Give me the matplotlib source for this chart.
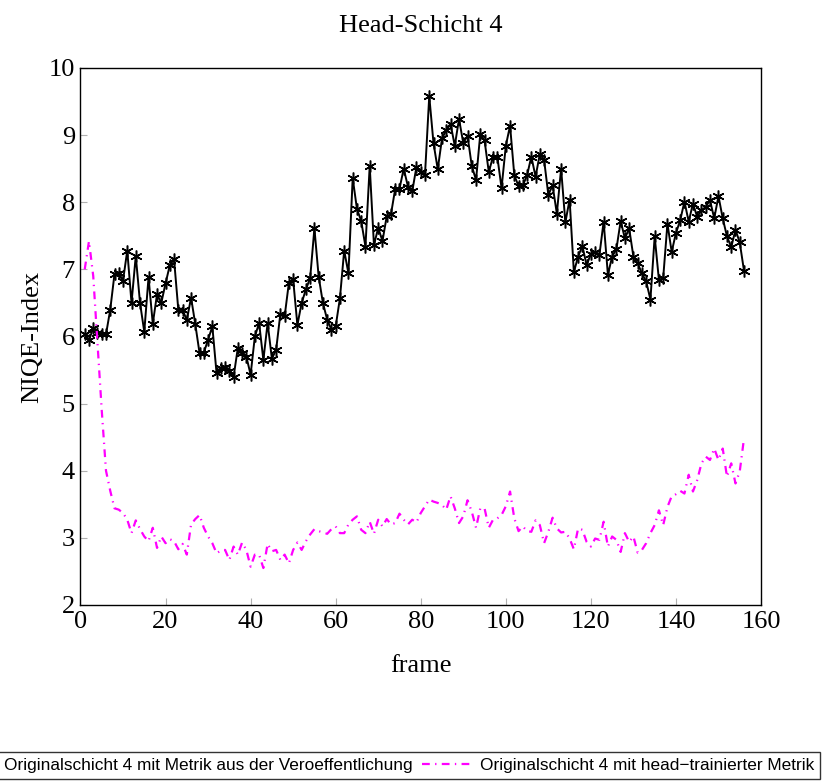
import matplotlib
matplotlib.use("Agg")
import matplotlib.pyplot as plt
import numpy as np

# Frames 1..156
frames = list(range(1, 157))

# NIQE values, original layer 4 with the published metric
niqe_published = [
    6.04, 5.94, 6.13, 6.05, 6.03, 6.03, 6.40, 6.93, 6.95, 6.83,
    7.28, 6.50, 7.20, 6.50, 6.07, 6.88, 6.19, 6.63, 6.50, 6.79,
    7.06, 7.15, 6.40, 6.40, 6.24, 6.58, 6.18, 5.75, 5.76, 5.95,
    6.15, 5.45, 5.53, 5.55, 5.48, 5.40, 5.83, 5.75, 5.70, 5.43,
    6.00, 6.20, 5.65, 6.20, 5.67, 5.80, 6.34, 6.30, 6.80, 6.85,
    6.17, 6.50, 6.70, 6.87, 7.61, 6.89, 6.50, 6.25, 6.10, 6.15,
    6.57, 7.28, 6.94, 8.36, 7.90, 7.72, 7.34, 8.54, 7.36, 7.62,
    7.42, 7.79, 7.82, 8.20, 8.20, 8.50, 8.23, 8.16, 8.53, 8.45,
    8.41, 9.58, 8.88, 8.49, 8.95, 9.07, 9.17, 8.84, 9.24, 8.88,
    8.99, 8.54, 8.33, 9.02, 8.92, 8.45, 8.68, 8.68, 8.21, 8.84,
    9.14, 8.40, 8.24, 8.25, 8.40, 8.68, 8.38, 8.72, 8.63, 8.11,
    8.25, 7.83, 8.50, 7.70, 8.04, 6.96, 7.19, 7.35, 7.06, 7.23,
    7.26, 7.21, 7.71, 6.92, 7.19, 7.30, 7.72, 7.46, 7.61, 7.19,
    7.09, 6.94, 6.82, 6.55, 7.49, 6.84, 6.87, 7.68, 7.26, 7.54,
    7.73, 8.01, 7.71, 7.98, 7.78, 7.88, 7.93, 8.03, 7.76, 8.09,
    7.76, 7.49, 7.33, 7.59, 7.40, 6.98,
]

# NIQE values, original layer 4 with the head-trained metric
niqe_head = [
    7.00, 7.42, 6.90, 5.90, 4.90, 4.00, 3.70, 3.44, 3.42, 3.37,
    3.27, 3.07, 3.26, 3.13, 3.02, 2.95, 3.15, 2.85, 3.02, 2.92,
    2.98, 2.95, 2.83, 2.91, 2.75, 3.20, 3.28, 3.34, 3.15, 3.02,
    2.92, 2.77, 2.81, 2.82, 2.67, 2.87, 2.75, 2.93, 2.82, 2.57,
    2.75, 2.75, 2.55, 2.91, 2.80, 2.82, 2.67, 2.75, 2.62, 2.82,
    2.93, 2.82, 2.95, 3.05, 3.13, 3.10, 3.08, 3.06, 3.13, 3.17,
    3.07, 3.07, 3.20, 3.27, 3.32, 3.12, 3.07, 3.24, 3.06, 3.27,
    3.17, 3.28, 3.20, 3.22, 3.36, 3.27, 3.20, 3.27, 3.23, 3.37,
    3.47, 3.57, 3.54, 3.52, 3.49, 3.42, 3.62, 3.44, 3.22, 3.32,
    3.56, 3.39, 3.15, 3.44, 3.44, 3.15, 3.27, 3.29, 3.34, 3.47,
    3.69, 3.29, 3.10, 3.17, 3.10, 3.09, 3.26, 3.19, 2.92, 3.09,
    3.30, 3.14, 3.08, 3.09, 2.99, 2.83, 3.14, 3.12, 2.94, 2.87,
    2.99, 2.97, 3.24, 2.87, 3.02, 2.97, 2.79, 3.07, 2.94, 3.02,
    2.78, 2.82, 2.92, 3.07, 3.19, 3.41, 3.19, 3.46, 3.62, 3.65,
    3.70, 3.66, 3.94, 3.69, 3.86, 4.11, 4.21, 4.16, 4.33, 4.16,
    4.33, 3.91, 4.11, 3.81, 3.99, 4.48,
]

series_labels = [
    "Originalschicht 4 mit Metrik aus der Veroeffentlichung",
    "Originalschicht 4 mit head\u2212trainierter Metrik",
]

x_ticks = [0, 20, 40, 60, 80, 100, 120, 140, 160]
y_ticks = [2, 3, 4, 5, 6, 7, 8, 9, 10]

SERIF = "Liberation Serif"
SANS = "Liberation Sans"


def display():
    """ Draw both NIQE curves and save the figure """
    fig = plt.figure(figsize=(8.22, 7.81), dpi=100)
    ax = fig.add_axes([0.0979, 0.2254, 0.8279, 0.6876])

    # Black line with six-armed asterisk marks
    ax.plot(frames, niqe_published, color="black", linewidth=1.4,
            marker=(6, 2, 0), markersize=8.5, markeredgewidth=1.1,
            markeredgecolor="black", label=series_labels[0])

    # Magenta dash-dotted line
    ax.plot(frames, niqe_head, color="#ff00ff", linewidth=1.6,
            linestyle=(0, (3.5, 2.4, 0.6, 2.4)), label=series_labels[1])

    ax.set_xlim(0, 160)
    ax.set_ylim(2, 10)
    ax.set_xticks(x_ticks)
    ax.set_yticks(y_ticks)
    ax.tick_params(direction="in", length=5, width=0.8, color="#b0b0b0",
                   top=False, right=False, labelsize=19, pad=4)
    for lab in ax.get_xticklabels() + ax.get_yticklabels():
        lab.set_fontfamily(SERIF)
    for spine in ax.spines.values():
        spine.set_linewidth(1.0)

    # Labels and title
    ax.set_xlabel("frame", fontsize=19, fontfamily=SERIF, labelpad=16)
    ax.set_ylabel("NIQE-Index", fontsize=19, fontfamily=SERIF, labelpad=4)
    ax.set_title("Head-Schicht 4", fontsize=19, fontfamily=SERIF, pad=26)

    # Legend along the bottom edge
    leg = fig.legend(loc="upper right", bbox_to_anchor=(820 / 822, 29 / 781),
                     ncol=2, frameon=True, fancybox=False, edgecolor="black",
                     prop={"family": SANS, "size": 12.4},
                     handlelength=3.0, handletextpad=0.35, columnspacing=0.55,
                     borderpad=0.35, borderaxespad=0)
    leg.get_frame().set_linewidth(1.0)

    fig.savefig("out.png", dpi=100)


display()
